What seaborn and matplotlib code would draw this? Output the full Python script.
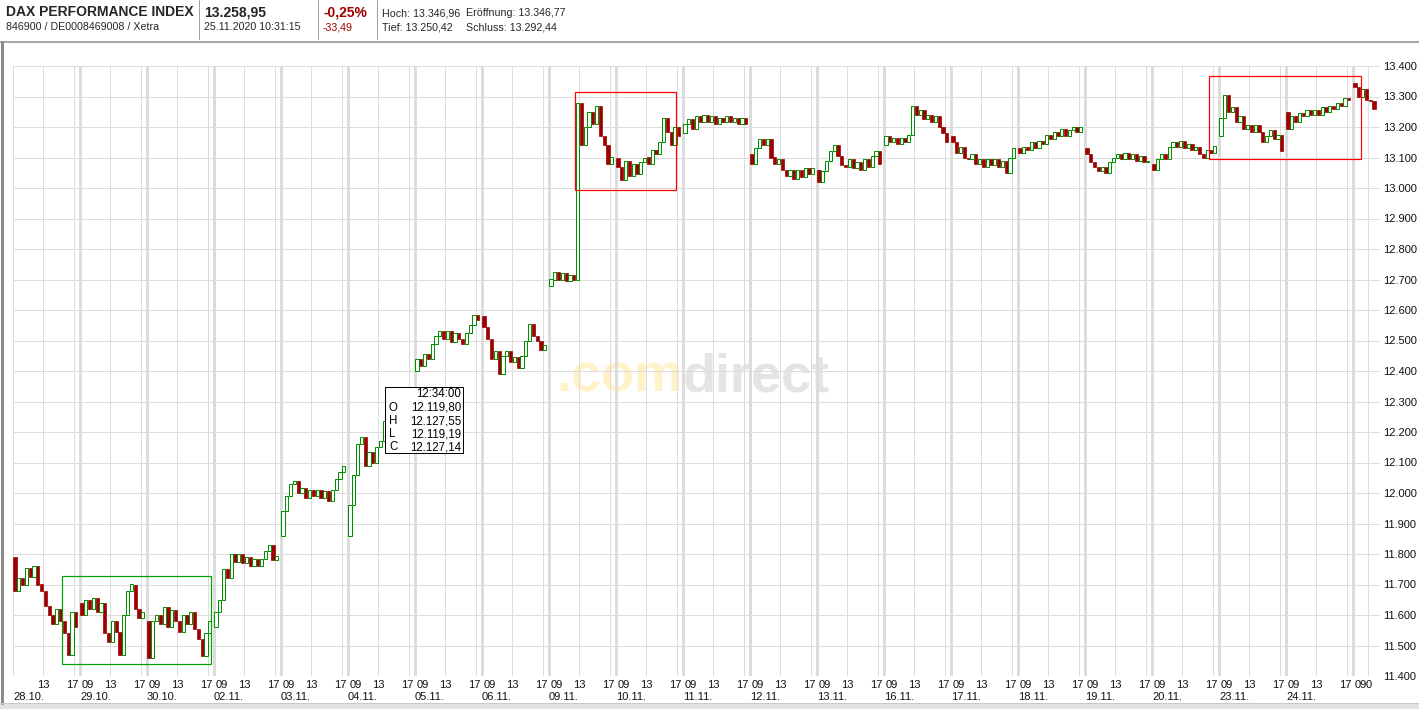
import numpy as np
import pandas as pd
import matplotlib
matplotlib.use("Agg")
import matplotlib.pyplot as plt
import seaborn as sns
from matplotlib.patches import Rectangle
from matplotlib.lines import Line2D
from matplotlib.transforms import blended_transform_factory

# ---------------- data ----------------
dates = ["28.10.", "29.10.", "30.10.", "02.11.", "03.11.", "04.11.", "05.11.", "06.11.",
         "09.11.", "10.11.", "11.11.", "12.11.", "13.11.", "16.11.", "17.11.", "18.11.",
         "19.11.", "20.11.", "23.11.", "24.11.", "25.11."]
day_open = [11790, 11640, 11580, 11560, 11860, 11860, 12400, 12580, 12680, 13100, 13180,
            13110, 13060, 13140, 13170, 13130, 13130, 13080, 13170, 13250, 13345]

c_2810 = [11680, 11720, 11700, 11755, 11725, 11760, 11700, 11680, 11630, 11600, 11570, 11620, 11580, 11540, 11470, 11610, 11560]
c_2910 = [11600, 11650, 11620, 11655, 11610, 11640, 11540, 11510, 11580, 11545, 11470, 11600, 11680, 11700, 11620, 11590, 11610]
c_3010 = [11460, 11580, 11600, 11570, 11625, 11560, 11615, 11580, 11545, 11600, 11570, 11610, 11555, 11520, 11465, 11540, 11580]
c_0211 = [11610, 11650, 11750, 11720, 11800, 11775, 11800, 11770, 11790, 11760, 11785, 11760, 11785, 11810, 11830, 11780, 11795]
c_0311 = [11940, 11990, 12030, 12040, 12000, 12015, 11985, 12010, 11990, 12010, 11985, 12005, 11975, 12010, 12045, 12070, 12090]
c_0411 = [11960, 12060, 12160, 12185, 12090, 12135, 12100, 12150, 12170, 12235, 12250, 12280, 12300, 12290, 12310, 12320, 12324]
c_0511 = [12440, 12415, 12455, 12440, 12490, 12515, 12530, 12505, 12530, 12495, 12525, 12505, 12490, 12525, 12550, 12585, 12568]
c_0611 = [12545, 12505, 12440, 12465, 12390, 12450, 12465, 12430, 12445, 12410, 12450, 12500, 12555, 12515, 12500, 12470, 12485]
c_0911 = [12700, 12725, 12700, 12720, 12695, 12715, 12700, 13280, 13140, 13200, 13250, 13210, 13270, 13170, 13140, 13080, 13100]
c_1011 = [13070, 13025, 13090, 13040, 13080, 13045, 13085, 13100, 13080, 13125, 13110, 13150, 13230, 13185, 13140, 13200, 13170]
c_1111 = [13210, 13225, 13195, 13235, 13215, 13240, 13215, 13235, 13210, 13230, 13215, 13235, 13215, 13230, 13210, 13230, 13210]
c_1211 = [13080, 13130, 13160, 13140, 13160, 13100, 13080, 13095, 13060, 13040, 13060, 13030, 13060, 13035, 13065, 13045, 13065]
c_1311 = [13020, 13055, 13090, 13120, 13140, 13105, 13075, 13070, 13095, 13065, 13085, 13060, 13095, 13070, 13105, 13120, 13080]
c_1611 = [13170, 13150, 13165, 13145, 13165, 13150, 13175, 13270, 13240, 13255, 13225, 13240, 13215, 13235, 13200, 13180, 13150]
c_1711 = [13150, 13115, 13135, 13100, 13095, 13110, 13080, 13095, 13070, 13095, 13075, 13095, 13070, 13090, 13050, 13100, 13130]
c_1811 = [13115, 13135, 13125, 13150, 13130, 13155, 13145, 13175, 13160, 13185, 13170, 13195, 13170, 13190, 13200, 13185, 13200]
c_1911 = [13110, 13085, 13070, 13055, 13070, 13050, 13085, 13100, 13110, 13095, 13115, 13095, 13110, 13090, 13105, 13085, 13090]
c_2011 = [13060, 13095, 13110, 13095, 13135, 13150, 13135, 13155, 13130, 13145, 13125, 13135, 13110, 13100, 13125, 13115, 13137]
c_2311 = [13230, 13305, 13250, 13265, 13215, 13235, 13195, 13205, 13185, 13205, 13185, 13150, 13170, 13190, 13160, 13175, 13120]
c_2411 = [13195, 13235, 13215, 13245, 13235, 13255, 13240, 13255, 13240, 13265, 13250, 13270, 13260, 13280, 13270, 13295, 13290]
c_2511 = [13330, 13300, 13325, 13290, 13285, 13258]
day_closes = [c_2810, c_2910, c_3010, c_0211, c_0311, c_0411, c_0511, c_0611, c_0911, c_1011,
              c_1111, c_1211, c_1311, c_1611, c_1711, c_1811, c_1911, c_2011, c_2311, c_2411, c_2511]

y_ticks = list(range(11400, 13401, 100))
hour_labels = ["09", "13", "17"]
green_box = [0.731, 2.955, 11439, 11728]          # x0, x1, y0, y1
red_boxes = [[8.388, 9.891, 12994, 13314], [17.85, 20.115, 13094, 13367]]
tooltip_rows = [("", "12:34:00"), ("O", "12.119,80"), ("H", "12.127,55"), ("L", "12.119,19"), ("C", "12.127,14")]

# session geometry (one x unit = one trading day)
SESSION_START = 9.0
HOURS_PER_DAY = 8.8
BAR_HOURS = 0.5

# ---------------- build candle table ----------------
rows = []
for k, cl in enumerate(day_closes):
    o = day_open[k]
    for i, c in enumerate(cl):
        x = k + ((i + 0.5) * BAR_HOURS) / HOURS_PER_DAY
        rows.append((k, x, o, c))
        o = c
df = pd.DataFrame(rows, columns=["day", "x", "open", "close"])

# ---------------- figure ----------------
W, H = 1419, 709
sns.set_theme(style="white")
plt.rcParams["font.family"] = ["Liberation Sans", "DejaVu Sans"]
fig = plt.figure(figsize=(W / 100, H / 100), dpi=100)

def fxp(px):
    return px / W

def fyp(py):
    return 1 - py / H

ax_l, ax_r, ax_t, ax_b = 13, 1380, 66, 676
ax = fig.add_axes([fxp(ax_l), fyp(ax_b), (ax_r - ax_l) / W, (ax_b - ax_t) / H])
ax.set_xlim(0, (ax_r - ax_l) / 67.0)
ax.set_ylim(11400, 13400)
for s in ax.spines.values():
    s.set_visible(False)
ax.set_facecolor("white")

GRID = "#dcdcdc"
px2pt = 0.72
# horizontal grid
for yv in y_ticks:
    ax.axhline(yv, color=GRID, lw=1 * px2pt, zorder=0.5)
# vertical grid
ndays = len(dates)
xmax = ax.get_xlim()[1]
ax.axvline(0, color=GRID, lw=1 * px2pt, zorder=0.5)
ax.axvline(xmax, color="#c8c8c8", lw=1 * px2pt, zorder=0.5)
for k in range(ndays):
    if k > 0:
        ax.axvline(k, color=GRID, lw=3 * px2pt, zorder=0.5)
    for h in (13, 17):
        xv = k + (h - SESSION_START) / HOURS_PER_DAY
        if xv < xmax:
            ax.axvline(xv, color=GRID, lw=1 * px2pt, zorder=0.5)
x_last_line = (ndays - 1) + (11 - SESSION_START) / HOURS_PER_DAY
ax.axvline(x_last_line, color=GRID, lw=1 * px2pt, zorder=0.5)

# watermark
ax.text((683 - ax_l) / (ax_r - ax_l), (ax_b - 392) / (ax_b - ax_t), ".com", transform=ax.transAxes,
        ha="right", va="baseline", fontsize=39, fontweight="bold", color="#fff1c8", zorder=0.2)
ax.text((683 - ax_l) / (ax_r - ax_l), (ax_b - 392) / (ax_b - ax_t), "direct", transform=ax.transAxes,
        ha="left", va="baseline", fontsize=39, fontweight="bold", color="#e4e4e4", zorder=0.2)

# candles
RED = "#9c0000"
GREEN = "#009000"
bw = 0.85 * BAR_HOURS / HOURS_PER_DAY
up = df[df["close"] >= df["open"]]
dn = df[df["close"] < df["open"]]
ax.bar(dn["x"], dn["open"] - dn["close"], bottom=dn["close"], width=bw,
       color=RED, edgecolor=RED, linewidth=0.5, zorder=2)
ax.bar(up["x"], np.maximum(up["close"] - up["open"], 3), bottom=up["open"], width=bw,
       color="white", edgecolor=GREEN, linewidth=1 * px2pt, zorder=2)

# annotation boxes
gx0, gx1, gy0, gy1 = green_box
ax.add_patch(Rectangle((gx0, gy0), gx1 - gx0, gy1 - gy0, fill=False, edgecolor="#00a000", lw=1.2 * px2pt, zorder=3))
for rx0, rx1, ry0, ry1 in red_boxes:
    ax.add_patch(Rectangle((rx0, ry0), rx1 - rx0, ry1 - ry0, fill=False, edgecolor="#ff0000", lw=1.2 * px2pt, zorder=3))

# y axis on the right
ax.yaxis.tick_right()
ax.set_yticks(y_ticks)
ax.set_yticklabels([f"{v:,}".replace(",", ".") for v in y_ticks])
ax.tick_params(axis="y", length=0, pad=2, labelsize=8, labelcolor="#111111")
ax.set_xticks([])

# x labels
bt = blended_transform_factory(ax.transData, ax.transAxes)
yh = -(685 - ax_b) / (ax_b - ax_t)
yd = -(697 - ax_b) / (ax_b - ax_t)
dpx = 1 / 67.0
for k in range(ndays):
    if k > 0:
        ax.text(k + 1.5 * dpx, yh, hour_labels[0], transform=bt, ha="left", va="center", fontsize=8, color="#111111")
    x13 = k + (13 - SESSION_START) / HOURS_PER_DAY
    x17 = k + (17 - SESSION_START) / HOURS_PER_DAY
    if x13 < xmax:
        ax.text(x13, yh, hour_labels[1], transform=bt, ha="center", va="center", fontsize=8, color="#111111")
    if x17 < xmax:
        ax.text(x17 - 1.5 * dpx, yh, hour_labels[2], transform=bt, ha="center", va="center", fontsize=8, color="#111111")
    if k < ndays - 1:
        ax.text(k, yd, dates[k], transform=bt, ha="left", va="center", fontsize=8, color="#111111")
ax.text(x_last_line, yh, "0", transform=bt, ha="center", va="center", fontsize=8, color="#111111")

# tooltip
tx0, ty0, tx1, ty1 = 385, 387, 463, 453
fig.patches.append(Rectangle((fxp(tx0), fyp(ty1)), (tx1 - tx0) / W, (ty1 - ty0) / H,
                             transform=fig.transFigure, facecolor="white", edgecolor="black",
                             lw=1 * px2pt, zorder=5))
row_y = [394, 408, 421, 434, 447]
for (lab, val), yy in zip(tooltip_rows, row_y):
    if lab:
        fig.text(fxp(389), fyp(yy), lab, ha="left", va="center", fontsize=8.3, color="black", zorder=6)
    fig.text(fxp(461), fyp(yy), val, ha="right", va="center", fontsize=8.3, color="black", zorder=6)

# header
fig.text(fxp(6), fyp(12.5), "DAX PERFORMANCE INDEX", fontsize=10, fontweight="bold", va="center", ha="left")
fig.text(fxp(6), fyp(27), "846900 / DE0008469008 / Xetra", fontsize=7.7, va="center", ha="left")
fig.text(fxp(204), fyp(12.5), "13.258,95", fontsize=10, fontweight="bold", va="center", ha="left")
fig.text(fxp(204), fyp(27), "25.11.2020 10:31:15", fontsize=7.7, va="center", ha="left")
fig.text(fxp(323), fyp(12.5), "-0,25%", fontsize=10, fontweight="bold", va="center", ha="left", color="#a00000")
fig.text(fxp(323), fyp(27), "-33,49", fontsize=7.7, va="center", ha="left", color="#a00000")
fig.text(fxp(382), fyp(13), "Hoch: 13.346,96", fontsize=7.7, va="center", ha="left")
fig.text(fxp(466), fyp(13), "Eröffnung: 13.346,77", fontsize=7.7, va="center", ha="left")
fig.text(fxp(382), fyp(27), "Tief: 13.250,42", fontsize=7.7, va="center", ha="left")
fig.text(fxp(466), fyp(27), "Schluss: 13.292,44", fontsize=7.7, va="center", ha="left")
for sx in (199, 318, 377):
    fig.lines.append(Line2D([fxp(sx), fxp(sx)], [fyp(0), fyp(39)], transform=fig.transFigure,
                            color="#a0a0a0", lw=1 * px2pt))
# window frame
fig.lines.append(Line2D([0, 1], [fyp(41.5), fyp(41.5)], transform=fig.transFigure, color="#8a8a8a", lw=1.5 * px2pt))
fig.lines.append(Line2D([fxp(1.5), fxp(1.5)], [fyp(41.5), fyp(703)], transform=fig.transFigure, color="#8a8a8a", lw=3 * px2pt))
fig.lines.append(Line2D([0, 1], [fyp(703), fyp(703)], transform=fig.transFigure, color="#c8c8c8", lw=1 * px2pt))
fig.patches.append(Rectangle((0, 0), 1, fyp(704), transform=fig.transFigure, facecolor="#e2e2e2", edgecolor="none"))

fig.savefig("out.png", dpi=100, facecolor="white")
